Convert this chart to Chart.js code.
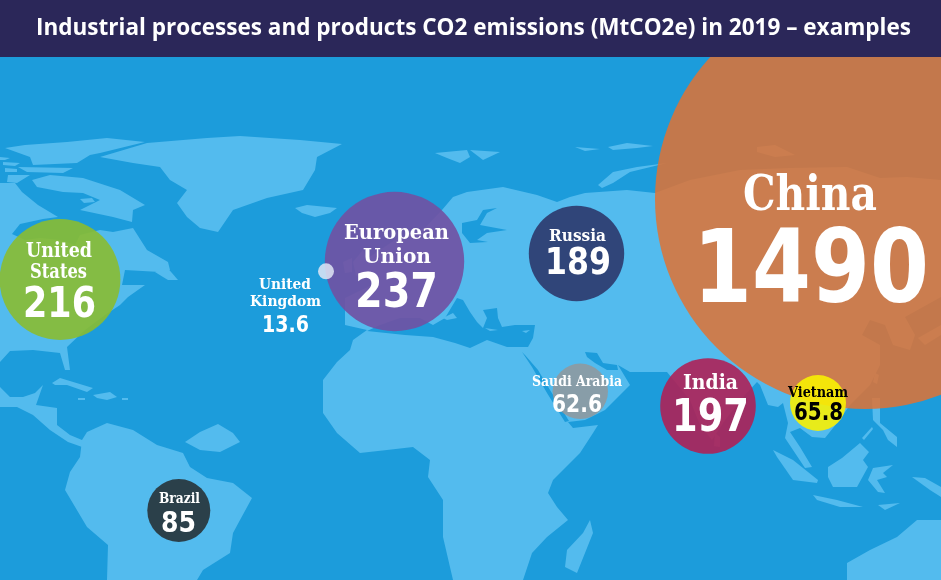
<!DOCTYPE html>
<html>
<head>
<meta charset="utf-8">
<title>Industrial processes and products CO2 emissions</title>
<script src="https://cdn.jsdelivr.net/npm/chart.js@4"></script>
<style>
    html, body { margin: 0; padding: 0; background: #1c9cdb; overflow: hidden; }
    canvas { display: block; }
</style>
</head>
<body>
<canvas id="mapChart" width="941" height="580"></canvas>
<script>
const chartTitle = "Industrial processes and products CO2 emissions (MtCO2e) in 2019 \u2013 examples";

// Emissions per country, biggest first so the small bubbles sit on top
const countries = ["China", "European Union", "United States", "India", "Russia", "Brazil", "Vietnam", "Saudi Arabia", "United Kingdom"];
const emissions = [1490, 237, 216, 197, 189, 85, 65.8, 62.6, 13.6];
const emissionLabels = ["1490", "237", "216", "197", "189", "85", "65.8", "62.6", "13.6"];

// Where each country's bubble sits on the map
const mapX = [865, 394.5, 60, 708, 576.5, 178.8, 818, 580.3, 326];
const mapY = [199, 261.5, 279.5, 406, 253.5, 510.5, 403, 391.3, 271.3];

// Bubble size scale, emissions -> radius
const sizeDomain = [13.6, 62.6, 65.8, 85, 189, 197, 216, 237, 1490];
const sizeRange = [8, 27.7, 28, 31.5, 47.7, 47.8, 60.4, 69.7, 210];

const bubbleColors = [
    "rgba(225,114,50,0.85)", "rgba(113,81,162,0.9)", "rgba(137,188,49,0.9)",
    "rgba(174,33,86,0.9)", "rgba(46,62,114,0.95)", "rgba(43,61,70,0.98)",
    "rgba(248,241,2,0.9)", "rgba(150,150,150,0.8)", "rgba(225,230,245,0.85)"
];

// Text layout per country: [line, centre x, baseline, font size, width]
const nameLayout = [
    [["China", 810, 210, 48, 134]],
    [["European", 396.5, 239, 21, 105], ["Union", 397, 263, 21, 68]],
    [["United", 59, 257, 20, 66], ["States", 58.5, 278, 20, 57]],
    [["India", 710.5, 389, 21, 55]],
    [["Russia", 577.5, 241, 17, 57]],
    [["Brazil", 179.5, 503, 14.5, 41]],
    [["Vietnam", 818, 397, 15, 60]],
    [["Saudi Arabia", 577, 386, 15, 90]],
    [["United", 285, 289, 15, 52], ["Kingdom", 285.5, 306, 15, 71]]
];
const valueLayout = [
    [811, 302, 102, 236], [396.5, 307, 48, 83], [59.5, 317, 43, 73], [710.5, 431, 45, 77],
    [578, 274, 37, 66], [178.5, 532, 28, 35], [818.5, 420, 24, 49], [577, 412, 25, 50], [285.5, 332, 23, 47]
];
const inkColors = ["#fff", "#fff", "#fff", "#fff", "#fff", "#fff", "#000", "#fff", "#fff"];

const seaColor = "#1c9cdb";
const landColor = "#53bbee";
const headerColor = "#2b2759";
const headerHeight = 57;

// Rough world outlines, in axis units
const landShapes = [
    // Greenland
    [[100,157],[147,143],[207,138],[240,136],[300,140],[342,144],[317,157],[315,170],[303,190],[267,198],[233,210],[218,232],[200,228],[187,217],[177,203],[187,190],[170,180],[160,167],[133,163]],
    // Iceland, Svalbard and the Russian arctic islands
    [[295,208],[307,205],[337,208],[330,213],[315,217],[302,213]],
    [[435,153],[467,150],[470,157],[460,163],[447,158]],
    [[470,150],[500,152],[483,160]],
    [[575,147],[600,149],[585,151]],
    [[608,147],[627,143],[653,146],[637,148],[613,150]],
    [[598,185],[613,172],[637,167],[667,163],[630,172],[613,183],[602,188]],
    [[757,147],[775,145],[795,155],[775,157],[757,152]],
    // Canadian arctic
    [[25,145],[67,142],[107,138],[145,142],[100,153],[90,155],[77,163],[33,165],[30,157],[5,148]],
    [[18,167],[73,168],[63,173],[27,172]],
    [[0,157],[10,158],[5,160],[0,160]],
    [[3,162],[20,163],[15,166],[3,165]],
    [[5,168],[17,169],[17,172],[5,172]],
    [[8,175],[30,175],[17,183],[7,182]],
    [[32,180],[50,175],[83,178],[120,190],[145,205],[133,210],[132,222],[113,217],[80,210],[100,200],[83,193],[63,192],[37,187]],
    [[80,199],[92,198],[95,202],[84,203]],
    // North America
    [[0,183],[15,183],[22,192],[38,205],[58,217],[43,219],[20,224],[12,234],[25,240],[40,238],[60,240],[75,245],[80,235],[100,230],[113,232],[133,228],[147,250],[168,262],[170,270],[160,272],[125,270],[122,285],[145,285],[128,297],[120,305],[105,315],[85,330],[67,347],[70,370],[65,370],[60,353],[33,350],[10,351],[0,362]],
    [[155,272],[165,265],[178,280],[168,280],[163,277]],
    // Mexico and Central America
    [[0,387],[10,397],[23,397],[35,393],[43,385],[36,405],[57,408],[57,425],[70,435],[82,440],[85,448],[68,442],[50,430],[33,415],[17,407],[0,407]],
    // Caribbean
    [[52,383],[60,378],[93,388],[87,392],[67,385],[55,385]],
    [[93,395],[110,392],[117,397],[107,400],[97,398]],
    [[78,398],[85,398],[85,400],[78,400]],
    [[122,398],[128,398],[128,400],[122,400]],
    // South America
    [[82,440],[87,432],[107,423],[133,430],[157,445],[183,453],[190,467],[207,478],[233,483],[252,498],[240,520],[233,533],[230,553],[203,570],[197,580],[107,580],[108,545],[87,527],[65,490],[70,472],[80,457]],
    [[185,442],[200,432],[218,424],[233,433],[240,442],[220,452],[200,450]],
    // Europe, Asia and Africa
    [[425,228],[442,210],[453,197],[467,192],[503,187],[537,195],[557,202],[570,197],[585,193],[627,190],[655,193],[690,180],[740,170],[790,168],[847,167],[880,178],[907,177],[941,180],
     [941,297],[905,317],[915,335],[910,350],[893,345],[885,325],[870,320],[862,335],[880,345],[880,365],[870,385],[850,405],[837,423],[825,438],[812,437],[800,428],[790,432],[800,447],[812,467],[805,468],[785,438],[788,423],[783,403],[778,407],[768,405],[760,385],[757,382],
     [745,395],[725,420],[712,440],[700,425],[690,400],[667,372],[630,372],[618,365],[630,385],[605,410],[585,420],[568,422],[573,428],[598,425],[593,433],[580,453],[553,480],[548,493],[557,507],[568,520],[547,537],[532,553],[523,580],
     [453,580],[443,537],[443,500],[428,477],[430,460],[413,447],[387,450],[360,453],[337,433],[323,413],[323,380],[337,362],[350,350],[353,340],[367,330],
     [345,325],[345,298],[372,285],[362,262],[380,250],[395,240],[410,232]],
    // British Isles
    [[353,262],[363,250],[370,267],[377,275],[362,280],[356,275]],
    [[343,262],[352,258],[352,272],[345,273]],
    // Madagascar
    [[590,520],[593,533],[577,573],[565,567],[567,550],[583,533]],
    // Sri Lanka, Taiwan, Philippines, Palawan, Sumatra, Borneo, Java, Sulawesi, New Guinea, Japan
    [[715,433],[720,437],[720,447],[714,446]],
    [[875,373],[879,375],[877,384],[873,382]],
    [[872,398],[880,398],[880,423],[897,437],[897,447],[888,440],[883,430],[873,420]],
    [[862,438],[872,427],[873,429],[864,440]],
    [[773,450],[793,460],[818,480],[817,483],[793,480],[777,457]],
    [[828,467],[842,458],[860,443],[869,452],[863,460],[868,467],[857,487],[833,487],[828,477]],
    [[813,495],[837,500],[863,507],[840,507],[817,500]],
    [[873,468],[893,465],[883,473],[887,477],[877,480],[885,493],[878,492],[868,480]],
    [[878,505],[900,503],[885,510]],
    [[912,477],[925,478],[941,487],[941,497],[930,490]],
    [[918,338],[941,325],[941,335],[925,345]],
    // Australia
    [[847,563],[870,550],[897,537],[917,520],[941,520],[941,580],[847,580]]
];
const seaShapes = [
    // Baltic
    [[462,223],[477,220],[483,210],[497,208],[487,213],[480,225],[507,230],[487,233],[477,240],[488,242],[470,243],[462,233]],
    // Mediterranean
    [[367,331],[380,325],[400,318],[420,318],[433,325],[445,318],[457,298],[463,300],[470,312],[477,322],[483,328],[487,318],[483,310],[497,308],[498,318],[502,327],[515,325],[535,325],[533,338],[528,347],[507,347],[487,340],[470,348],[455,343],[433,337],[405,335]],
    // Red Sea and Persian Gulf
    [[522,352],[532,367],[547,393],[565,422],[569,421],[550,390],[538,370],[525,355]],
    [[585,352],[597,353],[603,363],[617,365],[618,370],[607,370],[595,363],[587,357]]
];
// Islands inside the Mediterranean go back on after the sea
const seaIslands = [
    [[443,318],[453,313],[457,318],[447,320]],
    [[485,328],[498,330],[490,331]],
    [[522,331],[530,330],[526,333]]
];

function radiusFor(value) {
    let i = sizeDomain.findIndex(v => v >= value);
    if (i <= 0) return sizeRange[0];
    let t = (value - sizeDomain[i - 1]) / (sizeDomain[i] - sizeDomain[i - 1]);
    return sizeRange[i - 1] + t * (sizeRange[i] - sizeRange[i - 1]);
}

function fillShape(chart, points, color) {
    let ctx = chart.ctx, x = chart.scales.x, y = chart.scales.y;
    ctx.fillStyle = color;
    ctx.beginPath();
    points.forEach((p, i) => {
        let px = x.getPixelForValue(p[0]), py = y.getPixelForValue(p[1]);
        if (i === 0) ctx.moveTo(px, py); else ctx.lineTo(px, py);
    });
    ctx.closePath();
    ctx.fill();
}

// Text squeezed or stretched to a set width, the slab faces here run wider than the artwork
function fitText(ctx, text, cx, base, font, width, color) {
    ctx.save();
    ctx.font = font;
    ctx.fillStyle = color;
    ctx.textAlign = "center";
    ctx.textBaseline = "alphabetic";
    ctx.translate(cx, base);
    ctx.scale(width / ctx.measureText(text).width, 1);
    ctx.fillText(text, 0, 0);
    ctx.restore();
}

const worldMap = {
    id: "worldMap",
    beforeDatasetsDraw(chart) {
        let { ctx, width, height } = chart;
        ctx.save();
        ctx.fillStyle = seaColor;
        ctx.fillRect(0, 0, width, height);
        landShapes.forEach(s => fillShape(chart, s, landColor));
        seaShapes.forEach(s => fillShape(chart, s, seaColor));
        seaIslands.forEach(s => fillShape(chart, s, landColor));
        ctx.restore();
    }
};

const bubbleText = {
    id: "bubbleText",
    afterDatasetsDraw(chart) {
        let ctx = chart.ctx;
        countries.forEach((c, i) => {
            nameLayout[i].forEach(l => {
                fitText(ctx, l[0], l[1], l[2], `bold ${l[3]}px "DejaVu Serif"`, l[4], inkColors[i]);
            });
            let v = valueLayout[i];
            fitText(ctx, emissionLabels[i], v[0], v[1], `bold ${v[2]}px "DejaVu Sans"`, v[3], inkColors[i]);
        });
        // header band goes over the top of the China bubble
        ctx.fillStyle = headerColor;
        ctx.fillRect(0, 0, chart.width, headerHeight);
        fitText(ctx, chartTitle, 473.5, 35, 'bold 23px "Open Sans"', 875, "#fff");
    }
};

new Chart(document.getElementById("mapChart"), {
    type: "bubble",
    data: {
        labels: countries,
        datasets: [{
            label: "MtCO2e",
            data: countries.map((c, i) => ({ x: mapX[i], y: mapY[i], r: radiusFor(emissions[i]) })),
            backgroundColor: bubbleColors,
            borderWidth: 0,
            hoverBorderWidth: 0
        }]
    },
    options: {
        responsive: false,
        animation: false,
        layout: { padding: 0, autoPadding: false },
        scales: {
            x: { type: "linear", min: 0, max: 941, display: false },
            y: { type: "linear", min: 0, max: 580, reverse: true, display: false }
        },
        plugins: { legend: { display: false }, title: { display: false }, tooltip: { enabled: false } }
    },
    plugins: [worldMap, bubbleText]
});
</script>
</body>
</html>
